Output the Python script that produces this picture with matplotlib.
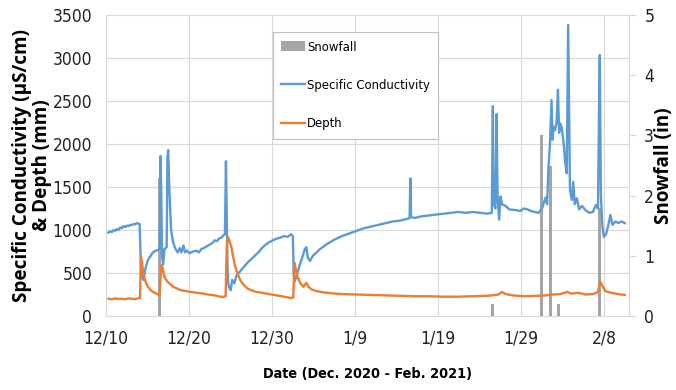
import matplotlib.pyplot as plt
import matplotlib.font_manager as fm
from matplotlib.font_manager import FontProperties
from matplotlib.patches import Patch
from matplotlib.lines import Line2D

# days after 12/10/2020
cond_days = [0.3, 0.5, 0.7, 0.9, 1.1, 1.3, 1.5, 1.7, 1.9, 2.1, 2.3, 2.5, 2.7, 2.9, 3.1, 3.3, 3.5, 3.7, 3.9, 4.05,
             4.2, 4.34, 4.51, 4.77, 5.04, 5.39, 5.65, 6.0, 6.35, 6.48, 6.57, 6.66, 6.75, 6.88, 7.05, 7.31, 7.4, 7.49,
             7.62, 7.84, 8.1, 8.37, 8.63, 8.89, 9.07, 9.33, 9.5, 9.77, 10.03, 10.47, 10.91, 11.17, 11.52, 11.78,
             12.13, 12.48, 12.83, 13.1, 13.36, 13.62, 13.88, 14.15, 14.32, 14.41, 14.45, 14.54, 14.63, 14.72, 14.85,
             15.02, 15.2, 15.46, 15.72, 16.16, 16.6, 17.04, 17.48, 17.91, 18.35, 18.79, 19.23, 19.67, 20.1, 20.54,
             20.98, 21.42, 21.86, 22.29, 22.51, 22.6, 22.73, 22.99, 23.35, 23.7, 23.96, 24.13, 24.31, 24.57, 24.92,
             25.36, 25.8, 26.67, 27.55, 28.43, 29.3, 30.18, 31.05, 31.93, 32.81, 33.68, 34.56, 35.43, 36.31, 36.57,
             36.66, 36.75, 37.19, 38.06, 38.94, 39.81, 40.69, 41.57, 42.44, 43.32, 44.19, 45.07, 45.95, 46.47, 46.6,
             46.69, 46.91, 47.04, 47.17, 47.35, 47.52, 47.7, 48.14, 48.57, 49.45, 49.89, 50.33, 50.77, 51.2, 52.08,
             52.52, 52.95, 53.13, 53.3, 53.48, 53.66, 53.79, 53.92, 54.09, 54.27, 54.44, 54.58, 54.71, 54.88, 55.14,
             55.32, 55.5, 55.58, 55.67, 55.76, 55.89, 56.11, 56.28, 56.46, 56.72, 56.99, 57.33, 57.77, 58.21, 58.65,
             59.0, 59.26, 59.39, 59.48, 59.61, 59.79, 59.96, 60.23, 60.49, 60.75, 61.02, 61.37, 61.71, 62.06, 62.5]
cond_vals = [970, 985, 975, 1000, 990, 1010, 1000, 1030, 1020, 1045, 1035, 1050, 1045, 1060, 1055, 1070, 1065, 1080, 1075, 1070,
             600, 450, 420, 560, 650, 700, 740, 760, 770, 800, 1860, 1400, 700, 600, 780, 800, 1850, 1930, 1500, 1000,
             850, 780, 740, 790, 740, 820, 740, 760, 730, 750, 760, 740, 780, 790, 810, 830, 850, 880,
             870, 900, 910, 940, 950, 1500, 1800, 1200, 600, 380, 330, 300, 420, 380, 470, 520, 570,
             620, 660, 700, 740, 790, 830, 860, 880, 900, 910, 930, 920, 950, 930, 500, 400, 480,
             600, 700, 780, 800, 680, 640, 700, 740, 780, 840, 890, 930, 960, 990, 1020, 1040, 1060,
             1080, 1100, 1110, 1130, 1140, 1600, 1150, 1140, 1160, 1170, 1180, 1190, 1200, 1210, 1200, 1210, 1200,
             1190, 1200, 2440, 1300, 1250, 2350, 1400, 1120, 1390, 1300, 1280, 1240, 1230, 1220, 1250, 1240, 1220,
             1200, 1250, 1380, 1300, 1730, 2000, 2510, 2050, 2200, 2160, 2250, 2630, 2130, 2240, 2200, 2000, 1780,
             1660, 2500, 3385, 2600, 1465, 1350, 1560, 1300, 1370, 1240, 1280, 1230, 1200, 1210, 1290, 1250, 2400,
             3035, 1400, 1050, 920, 950, 1050, 1175, 1060, 1100, 1080, 1100, 1080]

depth_days = [0.3, 0.7, 1.1, 1.5, 1.9, 2.3, 2.7, 3.1, 3.5, 3.9, 4.1, 4.2, 4.34, 4.51, 4.77, 5.04, 5.39, 5.65, 6.09,
              6.44, 6.57, 6.7, 6.83, 7.05, 7.4, 7.75, 8.1, 8.54, 8.98, 9.59, 10.21, 10.91, 11.78, 12.22, 12.66, 13.1,
              13.53, 13.97, 14.41, 14.54, 14.67, 14.85, 15.11, 15.29, 15.55, 15.81, 16.16, 16.6, 17.04, 17.48, 17.91,
              18.79, 19.67, 20.54, 21.42, 22.29, 22.56, 22.69, 22.82, 23.08, 23.43, 23.78, 24.13, 24.4, 24.75, 25.36,
              26.24, 27.11, 28.43, 30.18, 31.93, 33.68, 35.43, 37.19, 38.94, 40.69, 42.44, 44.19, 45.95, 47.26, 47.7,
              48.14, 49.01, 50.33, 52.08, 52.95, 53.83, 54.71, 55.58, 56.02, 56.9, 57.77, 58.65, 59.26, 59.52, 59.79,
              60.14, 60.84, 61.71, 62.5]
depth_vals = [200, 195, 205, 198, 200, 195, 205, 200, 198, 205, 210, 700, 620, 480, 400, 340, 300, 280, 260, 240,
              450, 590, 550, 450, 400, 370, 340, 320, 300, 290, 280, 270, 260, 250, 245, 240, 230, 220,
              230, 800, 920, 880, 800, 700, 580, 500, 420, 360, 320, 300, 285, 270, 255, 240, 225,
              210, 215, 620, 560, 450, 380, 340, 385, 340, 310, 290, 275, 265, 255, 250, 245, 240, 235, 230,
              230, 225, 225, 230, 235, 250, 280, 255, 240, 230, 235, 240, 250, 255, 280, 260, 270, 250, 255, 280, 400,
              350, 290, 270, 255, 245]

snow_days = [6.4, 46.5, 52.5, 53.5, 54.5, 59.5]
snow_in = [2.3, 0.2, 3.0, 2.5, 0.2, 1.8]

tick_days = [0, 10, 20, 30, 40, 50, 60]
tick_labels = ['12/10', '12/20', '12/30', '1/9', '1/19', '1/29', '2/8']

blue = '#5B9BD5'
orange = '#ED7D31'
gray = '#A5A5A5'
grid_c = '#D9D9D9'


# look for a narrow face (the reference uses a condensed font)
def wnum(w):
    if isinstance(w, int):
        return w
    return {'bold': 700, 'semibold': 600, 'demibold': 600, 'heavy': 800, 'black': 900}.get(str(w), 400)


narrow_list = [f for f in fm.fontManager.ttflist
               if f.style == 'normal' and (f.stretch in ('condensed', 'semi-condensed', 'extra-condensed')
                                           or 'Narrow' in f.name or 'Condensed' in f.name)]
order = ['Liberation Sans Narrow', 'Open Sans', 'Roboto', 'Noto Sans', 'DejaVu Sans']
narrow_list.sort(key=lambda f: order.index(f.name) if f.name in order else 99)
reg = next((f for f in narrow_list if wnum(f.weight) == 400), None)
bld = next((f for f in narrow_list if wnum(f.weight) == 700 and (reg is None or f.name == reg.name)), None)

if reg is not None:
    fp_tick = FontProperties(fname=reg.fname, size=12.5)
    fp_leg = FontProperties(fname=reg.fname, size=9.4)
    if bld is not None:
        fp_xlab = FontProperties(fname=bld.fname, size=10.4)
    else:
        fp_xlab = FontProperties(fname=reg.fname, size=10.4, weight='bold')
else:
    fp_tick = FontProperties(family='Liberation Sans', size=11)
    fp_leg = FontProperties(family='Liberation Sans', size=8.5)
    fp_xlab = FontProperties(family='Liberation Sans', size=9.5, weight='bold')

fig = plt.figure(figsize=(6.76, 3.9), dpi=100)
ax = fig.add_axes([0.1568, 0.1897, 0.7737, 0.7718])
ax2 = ax.twinx()
# bars behind lines
ax2.set_zorder(1)
ax.set_zorder(2)
ax.patch.set_visible(False)

ax2.bar(snow_days, snow_in, width=0.36, color=gray, zorder=2)
ax.plot(cond_days, cond_vals, color=blue, linewidth=1.7, zorder=3)
ax.plot(depth_days, depth_vals, color=orange, linewidth=1.7, zorder=3)

ax.set_xlim(0, 63)
ax2.set_xlim(0, 63)
ax.set_ylim(0, 3500)
ax2.set_ylim(0, 5)
ax.set_yticks(range(0, 3501, 500))
ax2.set_yticks(range(0, 6))
ax.set_xticks(tick_days)
ax.set_xticklabels(tick_labels)

# gridlines drawn on ax2 so they sit behind bars
for y in range(500, 3501, 500):
    ax2.axhline(y / 700, color=grid_c, linewidth=0.8, zorder=0)
for d in tick_days[1:]:
    ax2.axvline(d, color=grid_c, linewidth=0.8, zorder=0)

for a in (ax, ax2):
    for s in a.spines.values():
        s.set_visible(False)
for side in ('right', 'bottom', 'left'):
    ax2.spines[side].set_visible(True)
    ax2.spines[side].set_color(grid_c)

ax.tick_params(axis='both', length=0, colors='#222222')
ax.tick_params(axis='y', pad=10)
ax.tick_params(axis='x', pad=10)
ax2.tick_params(axis='y', length=5, color=grid_c, labelcolor='#222222', pad=6)
for lab in ax.get_xticklabels() + ax.get_yticklabels() + ax2.get_yticklabels():
    lab.set_fontproperties(fp_tick)

ax.set_xlabel('Date (Dec. 2020 - Feb. 2021)', fontproperties=fp_xlab)
ax.xaxis.set_label_coords(0.5, -0.168)
ax.set_ylabel('Specific Conductivity (µS/cm)\n& Depth (mm)', fontsize=13.6, fontweight='bold',
              fontfamily='Open Sans', linespacing=0.95)
ax.yaxis.set_label_coords(-0.104, 0.5)
ax2.set_ylabel('Snowfall (in)', fontsize=13.6, fontweight='bold', fontfamily='Open Sans')
ax2.yaxis.set_label_coords(1.048, 0.5)

handles = [Patch(facecolor=gray, edgecolor='none'),
           Line2D([0], [0], color=blue, linewidth=1.7),
           Line2D([0], [0], color=orange, linewidth=1.7)]
leg = ax.legend(handles, ['Snowfall', 'Specific Conductivity', 'Depth'],
                loc='upper left', bbox_to_anchor=(0.319, 0.9435), borderaxespad=0,
                prop=fp_leg, labelspacing=1.95,
                handlelength=1.8, handletextpad=0.15, borderpad=0.65,
                fancybox=False, framealpha=1, edgecolor='#BFBFBF')
leg.get_frame().set_linewidth(0.8)

fig.savefig('out.png', dpi=100)
